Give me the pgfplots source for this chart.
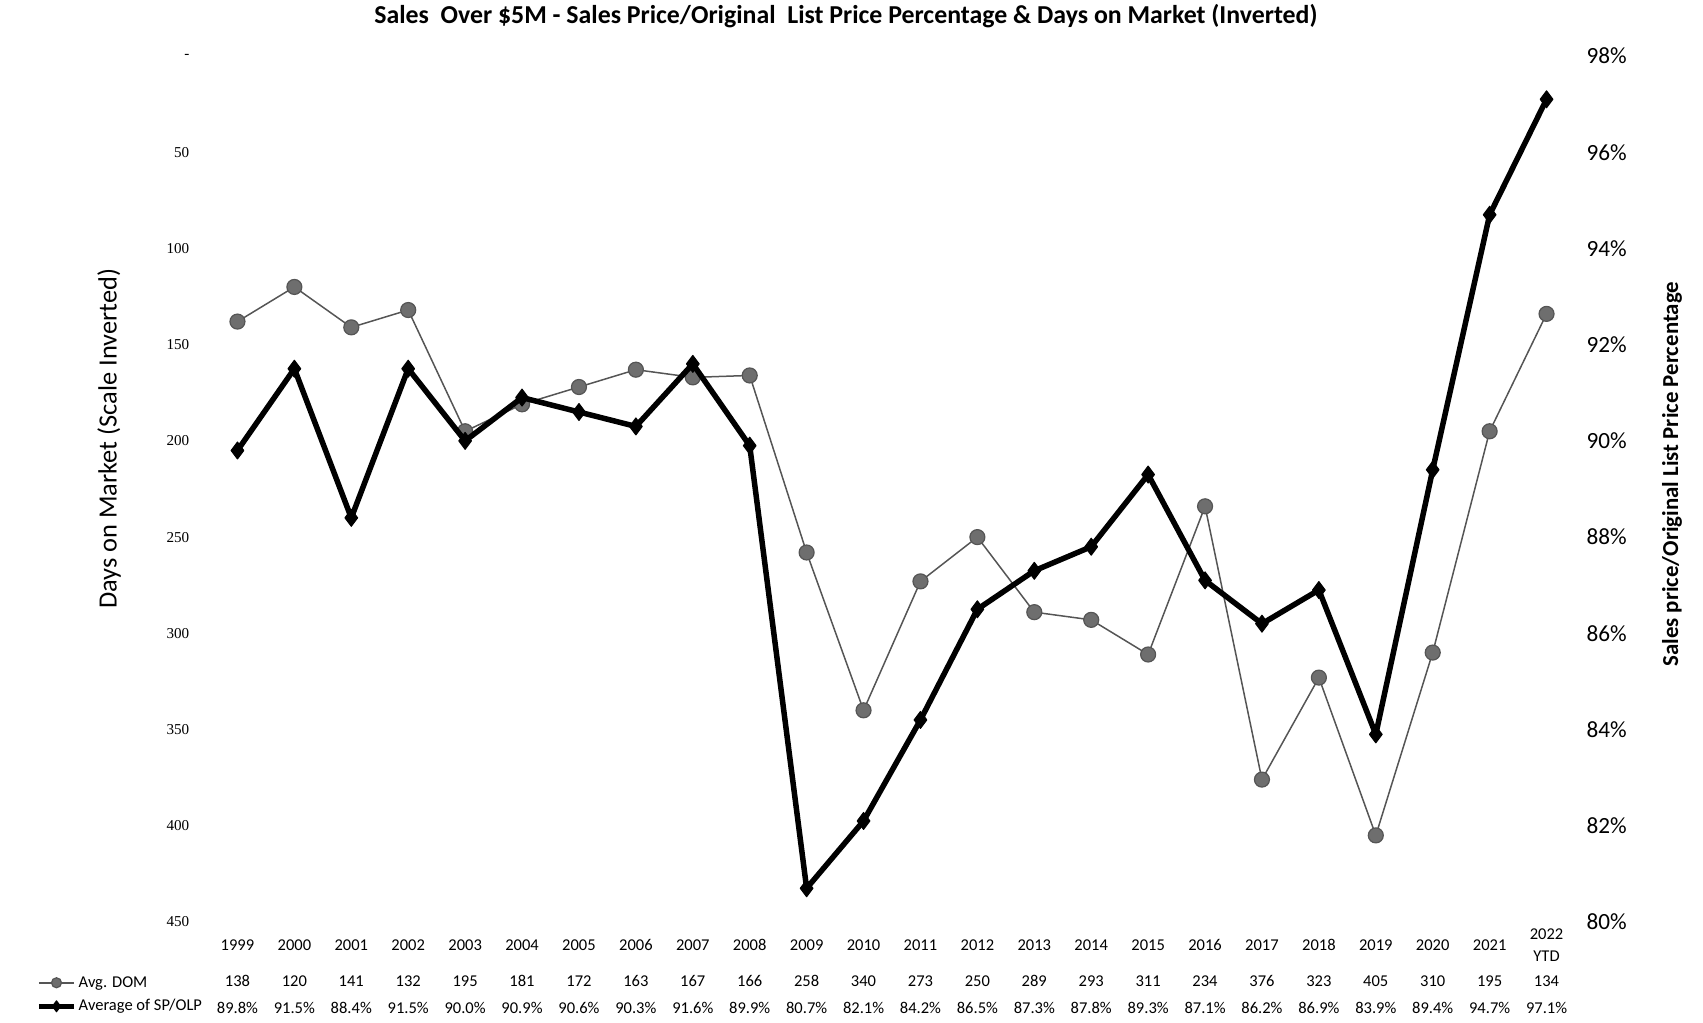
\documentclass[border=0pt]{standalone}
\usepackage{pgfplots}
\pgfplotsset{compat=1.18}
\usepackage{pgfplotstable}
\usepackage{fontspec}
\setmainfont{Carlito}
\newfontfamily\tickserif{Liberation Serif}

\definecolor{domline}{RGB}{85,85,85}
\definecolor{domfill}{RGB}{110,110,110}

\pgfplotstableread{
idx dom sp
0 138 89.8
1 120 91.5
2 141 88.4
3 132 91.5
4 195 90.0
5 181 90.9
6 172 90.6
7 163 90.3
8 167 91.6
9 166 89.9
10 258 80.7
11 340 82.1
12 273 84.2
13 250 86.5
14 289 87.3
15 293 87.8
16 311 89.3
17 234 87.1
18 376 86.2
19 323 86.9
20 405 83.9
21 310 89.4
22 195 94.7
23 134 97.1
}\data

\pgfplotsset{
  base/.style={
    at={(20.9mm,10.1mm)}, anchor=south west,
    scale only axis, width=136.6mm, height=86.6mm,
    xmin=-0.5, xmax=23.5, xtick={0,...,23},
    major tick length=0pt, minor tick num=0,
    axis line style={draw=none},
    /pgf/number format/assume math mode=true,
    clip=false,
  },
  domstyle/.style={color=domline, line width=0.15mm, line join=round,
    mark=*, mark size=0.75mm, mark options={fill=domfill, draw=domline, line width=0.12mm}},
  spstyle/.style={color=black, line width=0.55mm, line join=round,
    mark=diamond*, mark size=0.85mm, mark options={fill=black, line width=0.1mm}},
  tablefont/.style={font=\fontsize{4.7}{6.4}\selectfont},
}

\begin{document}
\begin{tikzpicture}
% Left axis: Days on market (inverted)
\begin{axis}[base,
  hide x axis,
  axis y line*=left,
  ymin=0, ymax=450, y dir=reverse,
  ytick={0,50,...,450},
  yticklabels={-,50,100,150,200,250,300,350,400,450},
  yticklabel style={font=\tickserif\fontsize{4.3}{5}\selectfont, inner sep=0pt, anchor=east, xshift=-1.9mm},
  ylabel={Days on Market (Scale Inverted)},
  every axis y label/.style={at={(axis description cs:-0.0732,0.558)}, anchor=center, rotate=90,
    font=\fontsize{7.5}{9}\selectfont},
]
\addplot[domstyle] table[x=idx, y=dom] {\data};
\end{axis}

% Right axis: SP/OLP
\begin{axis}[base,
  axis y line*=right, axis x line*=bottom,
  ymin=80, ymax=98,
  ytick={80,82,...,98},
  yticklabel={\pgfmathprintnumber{\tick}\%},
  yticklabel style={font=\fontsize{6.6}{8}\selectfont, inner sep=0pt, anchor=west, xshift=1.1mm},
  xticklabels={1999,2000,2001,2002,2003,2004,2005,2006,2007,2008,2009,2010,2011,2012,2013,2014,2015,2016,2017,2018,2019,2020,2021,{2022\\YTD}},
  xticklabel style={tablefont, align=center, anchor=center, inner sep=0pt, yshift=-2.3mm},
  ylabel={Sales price/Original List Price Percentage},
  every axis y label/.style={at={(axis description cs:1.071,0.517)}, anchor=center, rotate=90,
    font=\fontsize{6.5}{8}\bfseries},
  title={Sales\ \ Over \$5M - Sales Price/Original\ \ List Price Percentage \& Days on Market (Inverted)},
  title style={at={(axis description cs:0.4663,1.022)}, anchor=center, font=\fontsize{7.35}{9}\bfseries},
  legend style={at={(axis description cs:-0.1347,-0.050)}, anchor=north west,
    draw=none, fill=none, tablefont, row sep=0.4mm, column sep=0pt,
    nodes={inner sep=0.2mm, text height=1.2mm, text depth=0.35mm}},
  legend cell align=left,
  legend image code/.code={\draw[mark repeat=2, mark phase=2] plot coordinates {(0mm,0mm) (1.75mm,0mm) (3.5mm,0mm)};},
]
\addlegendimage{domstyle, mark size=0.5mm}
\addlegendentry{Avg. DOM}
\addlegendimage{spstyle, mark size=0.55mm}
\addlegendentry{Average of SP/OLP}
\addplot[spstyle, forget plot] table[x=idx, y=sp] {\data};
\end{axis}

% Data table row: Avg. DOM
\begin{axis}[base,
  hide y axis, axis x line*=bottom, ymin=0, ymax=1,
  xticklabels={138,120,141,132,195,181,172,163,167,166,258,340,273,250,289,293,311,234,376,323,405,310,195,134},
  xticklabel style={tablefont, anchor=center, inner sep=0pt, yshift=-5.9mm},
]
\end{axis}

% Data table row: Average of SP/OLP
\begin{axis}[base,
  hide y axis, axis x line*=bottom, ymin=0, ymax=1,
  xticklabels={89.8\%,91.5\%,88.4\%,91.5\%,90.0\%,90.9\%,90.6\%,90.3\%,91.6\%,89.9\%,80.7\%,82.1\%,84.2\%,86.5\%,87.3\%,87.8\%,89.3\%,87.1\%,86.2\%,86.9\%,83.9\%,89.4\%,94.7\%,97.1\%},
  xticklabel style={tablefont, anchor=center, inner sep=0pt, yshift=-8.6mm},
]
\end{axis}

\pgfresetboundingbox
\useasboundingbox (0,0) rectangle (170.3mm,102.3mm);
\end{tikzpicture}
\end{document}
